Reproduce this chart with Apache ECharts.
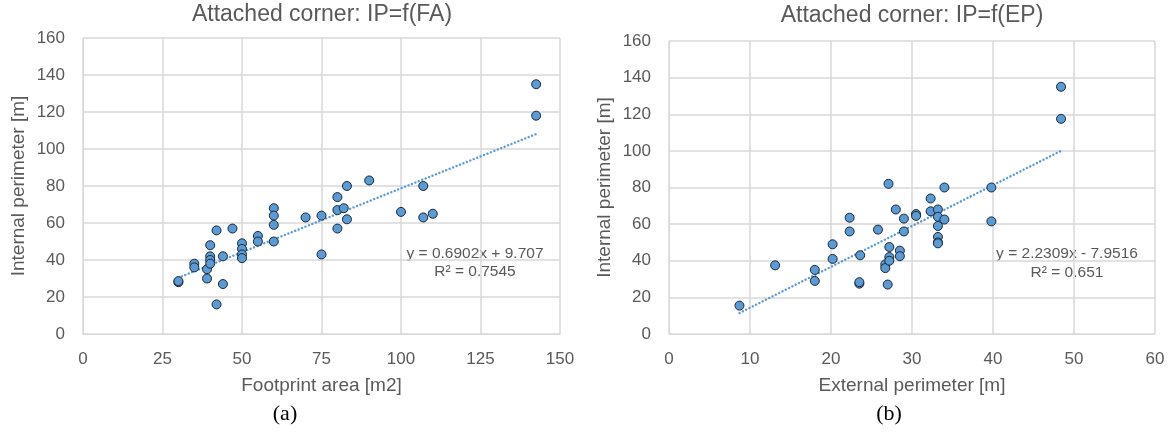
<!DOCTYPE html>
<html>
<head>
<meta charset="utf-8">
<script src="https://cdn.jsdelivr.net/npm/echarts@6/dist/echarts.min.js"></script>
<style>
  html, body { margin: 0; padding: 0; background: #fff; }
  #chart { width: 1172px; height: 432px; }
</style>
</head>
<body>
<div id="chart"></div>
<script>
// (a) footprint area [m2] vs internal perimeter [m]
const faPoints = [
  [30, 28], [30, 28.6], [35, 38], [35, 36], [39, 35], [39, 30], [40, 48], [40, 42],
  [40, 40], [40, 38], [42, 56], [42, 16], [44, 42], [44, 27], [47, 57], [50, 49],
  [50, 46], [50, 43], [50, 41], [55, 53], [55, 50], [60, 68], [60, 64], [60, 59],
  [60, 50], [70, 63], [75, 64], [75, 43], [80, 57], [80, 67], [80, 74], [82, 68],
  [83, 80], [83, 62], [90, 83], [100, 66], [107, 80], [107, 63], [110, 65],
  [142.5, 135], [142.5, 118]
];
// (b) external perimeter [m] vs internal perimeter [m]
const epPoints = [
  [8.7, 15.5], [13.1, 37.5], [18, 35], [18, 29], [20.2, 49], [20.2, 41], [22.3, 63.5],
  [22.3, 56], [23.5, 27.5], [23.5, 28.3], [23.6, 43], [25.8, 57], [27.1, 82], [28, 68],
  [27.2, 47.5], [27.2, 42], [26.7, 38], [26.7, 36], [27, 27], [27.2, 40], [28.5, 45.5],
  [28.5, 42.5], [29, 63], [29, 56], [30.5, 65.5], [30.5, 64.5], [32.3, 74], [32.3, 67],
  [33.2, 68], [33.2, 64], [33.2, 59], [33.2, 53], [33.2, 50], [33.2, 49.5], [34, 80],
  [34, 62.5], [39.8, 80], [39.8, 61.5], [48.4, 135], [48.4, 117.5]
];

// trendline coefficients as printed on the chart
const faFit = { slope: 0.6902, intercept: 9.707 };
const epFit = { slope: 2.2309, intercept: -7.9516 };
const faFitLabel = ['y = 0.6902x + 9.707', 'R² = 0.7545'];
const epFitLabel = ['y = 2.2309x - 7.9516', 'R² = 0.651'];

const titles = ['Attached corner: IP=f(FA)', 'Attached corner: IP=f(EP)'];
const xNames = ['Footprint area [m2]', 'External perimeter [m]'];
const yName = 'Internal perimeter [m]';
const captions = ['(a)', '(b)'];

const FONT = '"Liberation Sans", Arial, sans-serif';
const SERIF = '"Liberation Serif", "Times New Roman", serif';
const TXT = '#595959';
const GRID = '#D9D9D9';
const BLUE = '#5B9BD5';

function fitLine(points, fit) {
  const xs = points.map(p => p[0]);
  const lo = Math.min(...xs), hi = Math.max(...xs);
  return [[lo, fit.slope * lo + fit.intercept], [hi, fit.slope * hi + fit.intercept]];
}

function xAxisCfg(idx, max, interval) {
  return {
    gridIndex: idx, type: 'value', min: 0, max: max, interval: interval,
    name: xNames[idx], nameLocation: 'middle', nameGap: 42,
    nameTextStyle: { color: TXT, fontSize: 19, fontFamily: FONT },
    axisLine: { show: true, lineStyle: { color: GRID } },
    axisTick: { show: false },
    axisLabel: { color: TXT, fontSize: 17, fontFamily: FONT, margin: 17 },
    splitLine: { show: true, lineStyle: { color: GRID, width: 1.5 } }
  };
}

function yAxisCfg(idx) {
  return {
    gridIndex: idx, type: 'value', min: 0, max: 160, interval: 20,
    name: yName, nameLocation: 'middle', nameGap: 55,
    nameTextStyle: { color: TXT, fontSize: 19, fontFamily: FONT },
    axisLine: { show: true, lineStyle: { color: GRID } },
    axisTick: { show: false },
    axisLabel: { color: TXT, fontSize: 17, fontFamily: FONT, margin: 18 },
    splitLine: { show: true, lineStyle: { color: GRID, width: 1.5 } }
  };
}

function scatter(idx, data) {
  return {
    type: 'scatter', xAxisIndex: idx, yAxisIndex: idx, data: data,
    symbol: 'circle', symbolSize: 9, z: 3,
    itemStyle: { color: BLUE, borderColor: '#1c2733', borderWidth: 1, opacity: 1 }
  };
}

function trend(idx, data) {
  return {
    type: 'line', xAxisIndex: idx, yAxisIndex: idx, data: data,
    symbol: 'none', silent: true, z: 2,
    lineStyle: { color: BLUE, width: 2.4, type: [0.1, 3.6], cap: 'round' }
  };
}

function text(str, x, y, size, family, color) {
  return {
    type: 'text', x: x, y: y, silent: true,
    style: { text: str, fill: color, fontSize: size, fontFamily: family, align: 'center', verticalAlign: 'middle' }
  };
}

const chart = echarts.init(document.getElementById('chart'));
chart.setOption({
  animation: false,
  backgroundColor: '#fff',
  grid: [
    { left: 83, top: 38, width: 477, height: 296 },
    { left: 669, top: 41, width: 486, height: 293 }
  ],
  xAxis: [xAxisCfg(0, 150, 25), xAxisCfg(1, 60, 10)],
  yAxis: [yAxisCfg(0), yAxisCfg(1)],
  series: [
    trend(0, fitLine(faPoints, faFit)),
    scatter(0, faPoints),
    trend(1, fitLine(epPoints, epFit)),
    scatter(1, epPoints)
  ],
  graphic: [
    text(titles[0], 322, 15, 23, FONT, TXT),
    text(titles[1], 912, 16, 23, FONT, TXT),
    text(faFitLabel[0], 475, 254, 15.5, FONT, TXT),
    text(faFitLabel[1], 475, 272, 15.5, FONT, TXT),
    text(epFitLabel[0], 1067, 254, 15.5, FONT, TXT),
    text(epFitLabel[1], 1067, 273, 15.5, FONT, TXT),
    text(captions[0], 285, 414, 22, SERIF, '#000'),
    text(captions[1], 889, 414, 22, SERIF, '#000')
  ]
});
</script>
</body>
</html>
